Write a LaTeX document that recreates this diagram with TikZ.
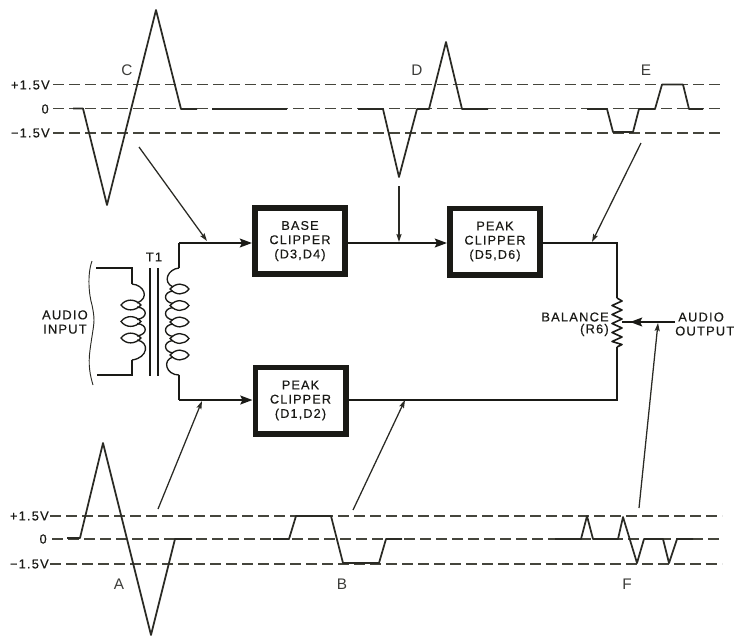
\documentclass[tikz,border=0pt]{standalone}
\usepackage{fontspec}
\usetikzlibrary{arrows.meta}
\newfontfamily\lab[LetterSpace=9,FakeBold=0.4]{Liberation Sans}
\newfontfamily\wavelet{Liberation Sans}
\definecolor{ink}{HTML}{1A1A16}
\definecolor{dashc}{HTML}{45453C}
\definecolor{wavec}{HTML}{2A2A24}
\tikzset{
  clipbox/.style={draw=ink,line width=4.3pt,fill=white,minimum width=67.7pt,minimum height=49.7pt,inner sep=0pt,align=center,text=ink,font=\lab\fontsize{9.5}{10.7}\selectfont},
  lbl/.style={inner sep=0pt,text=ink,font=\lab\fontsize{9.7}{10.7}\selectfont},
  letter/.style={inner sep=0pt,text=ink!85,font=\wavelet\fontsize{11.5}{12}\selectfont},
  ref/.style={draw=dashc,line width=.95pt,dash pattern=on 8.2pt off 3.8pt},
  wave/.style={draw=wavec,line width=1.3pt,line join=round},
  wire/.style={draw=ink,line width=1.8pt},
  coil/.style={draw=ink,line width=1pt},
  bigarrow/.style={-{Stealth[length=9pt,width=6.5pt,inset=1.5pt]}},
  pointer/.style={draw=wavec,line width=.95pt,-{Stealth[length=6pt,width=3.8pt,inset=1pt]}}
}
\begin{document}
\begin{tikzpicture}[x=.75pt,y=-.75pt]
\useasboundingbox (0,0) rectangle (734,637);
% reference levels
\draw[ref] (53,84.5) -- (724,84.5);
\draw[ref] (53,108.5) -- (724,108.5);
\draw[ref] (53,133) -- (724,133);
\draw[ref] (50,516) -- (722,516);
\draw[ref] (52,539) -- (722,539);
\draw[ref] (50,564) -- (722,564);
% level labels
\node[lbl,anchor=east] (tp) at (50,85) {+1.5V};
\node[lbl,anchor=east] (tz) at (49,109) {0};
\node[lbl,anchor=east] (tm) at (50,133) {−1.5V};
\node[lbl,anchor=east] (bp) at (49,516) {+1.5V};
\node[lbl,anchor=east] (bz) at (47,539) {0};
\node[lbl,anchor=east] (bm) at (49,564) {−1.5V};
% waveforms
\draw[wave] (73,108.5)--(83,108.5)--(107,205)--(156,10)--(181,109)--(197,109);
\draw[wave,line width=1.8pt] (212,108.7)--(287,108.7);
\draw[wave] (358,109)--(383,109)--(399,177)--(417,109)--(429,109)--(446,42)--(462,109)--(488,109);
\draw[wave] (587,109)--(607,109)--(613,132)--(633,132)--(639,109)--(655,109)--(662,84.5)--(683,84.5)--(689,109)--(703,109);
\draw[wave] (67,538)--(80,538)--(103,443)--(151,635)--(175,539)--(192,539);
\draw[wave] (273,539)--(289,539)--(296,516)--(331,516)--(343,563)--(379,563)--(386,539)--(402,539);
\draw[wave] (555,539)--(581,539)--(587,516)--(593,539)--(618,539)--(623,517)--(637,563)--(644,539)--(663,539)--(669,563)--(677,539)--(693,539);
% waveform letters
\node[letter] (lc) at (127,70) {C};
\node[letter] (ld) at (417,70) {D};
\node[letter] (le) at (646,70) {E};
\node[letter] (la) at (119,584) {A};
\node[letter] (lb) at (342,584) {B};
\node[letter] (lf) at (627,584) {F};
% blocks
\node[clipbox] (base) at (300,241) {BASE\\CLIPPER\\(D3,D4)};
\node[clipbox] (peakb) at (495,241.5) {PEAK\\CLIPPER\\(D5,D6)};
\node[clipbox] (peaka) at (300.5,400.5) {PEAK\\CLIPPER\\(D1,D2)};
% wiring nodes
\coordinate (sectop) at (179,268);
\coordinate (secbot) at (179,375);
\coordinate (cornerA) at (179,243);
\coordinate (cornerB) at (179,400);
\coordinate (cornerC) at (617,243);
\coordinate (cornerD) at (617,400);
\coordinate (rtop) at (617,298);
\coordinate (rbot) at (617,347);
\coordinate (wiper) at (622,322);
\coordinate (outend) at (675,322);
% wires
\draw[wire] (sectop) -- (cornerA);
\draw[wire,bigarrow] (cornerA) -- (cornerA -| base.west);
\draw[wire] (secbot) -- (cornerB);
\draw[wire,bigarrow] (cornerB) -- (cornerB -| peaka.west);
\draw[wire,bigarrow] (base.east |- 0,243) -- (peakb.west |- 0,243);
\draw[wire,line join=miter] (peakb.east |- cornerC) -- (cornerC) -- (rtop);
\draw[wire,line join=miter] (rbot) -- (cornerD) -- (cornerD -| peaka.east);
% resistor
\draw[coil,line width=1.2pt,line join=round] (rtop)--(622,301)--(612,305.5)--(622,310)--(612,314.5)--(622,319)--(612,323.5)--(622,328)--(612,332.5)--(622,337)--(612,341.5)--(622,344.5)--(rbot);
% output
\draw[coil] (wiper) -- (635,322);
\draw[wire,bigarrow] (outend) -- (630,322);
% transformer core
\coordinate (coreAt) at (150,268);\coordinate (coreAb) at (150,376);
\coordinate (coreBt) at (158,268);\coordinate (coreBb) at (158,376);
\draw[wire,line width=1.3pt] (coreAt) -- (coreAb);
\draw[wire,line width=1.3pt] (coreBt) -- (coreBb);
\node[lbl] (t1) at (154,257) {T1};
% primary
\coordinate (pa) at (96,268);\coordinate (pb) at (132,268);\coordinate (pc) at (132,284);
\coordinate (pd) at (132,360);\coordinate (pe) at (132,375);\coordinate (pf) at (97,375);
\draw[wire,line width=1.5pt] (pa) -- (pb) -- (pc);
\draw[wire,line width=1.5pt] (pd) -- (pe) -- (pf);
\draw[coil] (pc) .. controls (144,285) and (150,298) .. (137,303);
\foreach \yy in {305,321.5,338}{
  \draw[coil] (121,\yy) .. controls (126,\yy-6.5) and (135,\yy-6.5) .. (141,\yy)
     .. controls (135,\yy+6.5) and (126,\yy+6.5) .. cycle;
}
\foreach \yy in {305,321.5}{
  \draw[coil] (137,\yy+2) .. controls (148,\yy+3) and (148,\yy+13) .. (137,\yy+14.5);
}
\draw[coil] (137,340) .. controls (150,342) and (148,358) .. (pd);
% secondary
\draw[coil] (sectop) .. controls (168,269) and (162,282) .. (173,287);
\foreach \yy in {289,305.5,322,338.5,355}{
  \draw[coil] (170,\yy) .. controls (176,\yy-6.5) and (184,\yy-6.5) .. (189,\yy)
     .. controls (184,\yy+6.5) and (176,\yy+6.5) .. cycle;
}
\foreach \yy in {289,305.5,322,338.5}{
  \draw[coil] (173,\yy+2) .. controls (163,\yy+3) and (163,\yy+13) .. (173,\yy+14.5);
}
\draw[coil] (173,357) .. controls (162,360) and (166,375) .. (secbot);
% brace
\draw[draw=wavec,line width=.7pt] (92,261) .. controls (87,275) and (89,295) .. (92,305) .. controls (93,310) and (94,315) .. (94,320) .. controls (94,326) and (92,335) .. (90,350) .. controls (88,365) and (90,375) .. (93,385);
\node[lbl,align=center,anchor=east] (input) at (88,322) {AUDIO\\INPUT};
% balance and output labels
\node[lbl,anchor=east] (bal) at (609,317) {BALANCE};
\node[lbl,anchor=east] (r6) at (609,330) {(R6)};
\node[lbl,anchor=west] (aud) at (678,317) {AUDIO};
\node[lbl,anchor=west] (out) at (675,331) {OUTPUT};
% pointers
\coordinate (pC) at (139,147);\coordinate (pD) at (399,186);\coordinate (pE) at (641,143);
\coordinate (pA) at (158,509);\coordinate (pB) at (353,510);\coordinate (pF) at (639,508);
\draw[pointer] (pC) -- (207,241);
\draw[pointer] (pD) -- (399,242);
\draw[pointer] (pE) -- (592,242);
\draw[pointer] (pA) -- (202,401);
\draw[pointer] (pB) -- (405,400);
\draw[pointer] (pF) -- (658,323);
\end{tikzpicture}
\end{document}
